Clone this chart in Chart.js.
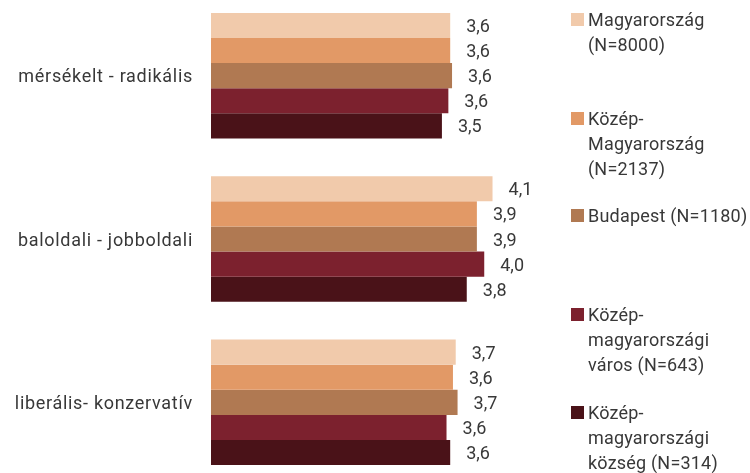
<!DOCTYPE html>
<html>
<head>
<meta charset="utf-8">
<script src="https://cdn.jsdelivr.net/npm/chart.js@4/dist/chart.umd.min.js"></script>
<style>
  html, body { margin: 0; padding: 0; background: #fff; overflow: hidden; }
  #wrap { position: absolute; left: 0; top: -6px; width: 750px; height: 490px; }
</style>
</head>
<body>
<div id="wrap"><canvas id="chart"></canvas></div>
<script>
// adatok
const categories = ['mérsékelt - radikális', 'baloldali - jobboldali', 'liberális- konzervatív'];
const legendLines = [
    ['Magyarország', '(N=8000)'],
    ['Közép-', 'Magyarország', '(N=2137)'],
    ['Budapest (N=1180)'],
    ['Közép-', 'magyarországi', 'város (N=643)'],
    ['Közép-', 'magyarországi', 'község (N=314)']
];
const magyarorszag = [3.60, 4.06, 3.66];
const kozepMagyarorszag = [3.60, 3.89, 3.63];
const budapest = [3.62, 3.89, 3.68];
const kozepVaros = [3.58, 3.97, 3.56];
const kozepKozseg = [3.51, 3.78, 3.60];
const colors = ['#F1CAAB', '#E29966', '#B07952', '#7C212E', '#4A1218'];

const FONT = 'Roboto, "DejaVu Sans", sans-serif';
const TEXT = '#383838';

// kategoria feliratok bal oldalt
const catLabels = {
    id: 'catLabels',
    afterDraw(chart) {
        const ctx = chart.ctx;
        const y = chart.scales.y;
        ctx.save();
        ctx.font = '18px ' + FONT;
        ctx.letterSpacing = '0.7px';
        ctx.fillStyle = TEXT;
        ctx.textAlign = 'right';
        ctx.textBaseline = 'middle';
        chart.data.labels.forEach((lab, i) => {
            ctx.fillText(lab, 193, y.getPixelForValue(i) + 2);
        });
        ctx.restore();
    }
};

// ertekek az oszlopok vegen
const valueLabels = {
    id: 'valueLabels',
    afterDatasetsDraw(chart) {
        const ctx = chart.ctx;
        ctx.save();
        ctx.font = '18px ' + FONT;
        ctx.fillStyle = TEXT;
        ctx.textAlign = 'left';
        ctx.textBaseline = 'middle';
        chart.data.datasets.forEach((ds, i) => {
            chart.getDatasetMeta(i).data.forEach((bar, j) => {
                const txt = ds.data[j].toFixed(1).replace('.', ',');
                ctx.fillText(txt, bar.x + 16, bar.y + 2);
            });
        });
        ctx.restore();
    }
};

// jelmagyarazat jobbra
const sideLegend = {
    id: 'sideLegend',
    afterDraw(chart) {
        const ctx = chart.ctx;
        const tops = [26, 125, 222, 321, 419];
        ctx.save();
        ctx.font = '18px ' + FONT;
        ctx.letterSpacing = '0.2px';
        ctx.textBaseline = 'middle';
        chart.data.datasets.forEach((ds, i) => {
            ctx.fillStyle = ds.backgroundColor;
            ctx.fillRect(571, tops[i] - 7, 13, 13);
            ctx.fillStyle = TEXT;
            legendLines[i].forEach((line, k) => {
                ctx.fillText(line, 588, tops[i] + 1 + k * 25);
            });
        });
        ctx.restore();
    }
};

const seriesData = [magyarorszag, kozepMagyarorszag, budapest, kozepVaros, kozepKozseg];

new Chart(document.getElementById('chart'), {
    type: 'bar',
    data: {
        labels: categories,
        datasets: seriesData.map((d, i) => ({
            label: legendLines[i].join(' '),
            data: d,
            backgroundColor: colors[i],
            borderWidth: 0,
            barPercentage: 1,
            categoryPercentage: 0.768
        }))
    },
    options: {
        indexAxis: 'y',
        responsive: true,
        maintainAspectRatio: false,
        animation: false,
        layout: { padding: { left: 0, right: 171, top: 0, bottom: 0 } },
        plugins: {
            legend: { display: false },
            tooltip: { enabled: false }
        },
        scales: {
            x: {
                min: 1,
                max: 5,
                display: false
            },
            y: {
                grid: { display: false, drawTicks: false },
                border: { display: false },
                ticks: { display: false },
                afterFit(scale) { scale.width = 211; }
            }
        }
    },
    plugins: [valueLabels, catLabels, sideLegend]
});
</script>
</body>
</html>
